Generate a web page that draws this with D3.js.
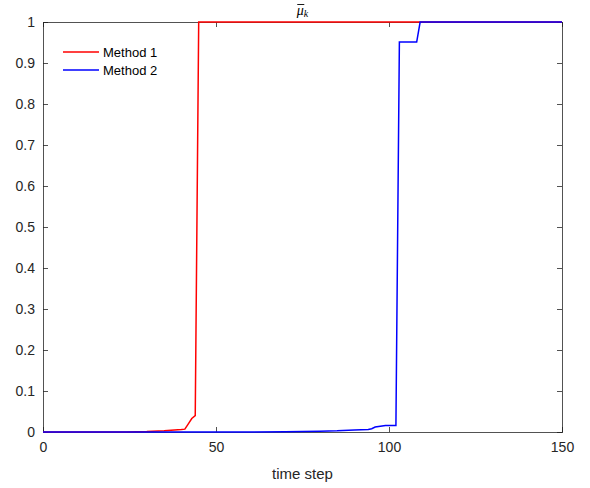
<!DOCTYPE html>
<html lang="en">
<head>
    <meta charset="UTF-8">
    <title>mu bar k</title>
    <script src="https://cdn.jsdelivr.net/npm/d3@7"></script>
    <style>
        body { margin: 0; background: #fff; font-family: "Liberation Sans", Arial, sans-serif; }
        .tick text { fill: #262626; font-size: 14px; }
    </style>
</head>
<body>
    <div id="chart"></div>
    <script>
        // time steps and values
        const method1T = [0, 20, 24, 30, 35, 38, 40, 41, 42, 43, 44, 45, 60, 80, 100, 120, 150];
        const method1V = [0, 0, 0.0003, 0.001, 0.003, 0.005, 0.006, 0.007, 0.02, 0.033, 0.04, 1, 1, 1, 1, 1, 1];
        const method2T = [0, 50, 70, 75, 80, 85, 90, 94, 95, 96, 99, 101, 102, 103, 107, 108, 109, 120, 150];
        const method2V = [0, 0, 0.0005, 0.001, 0.002, 0.003, 0.005, 0.006, 0.008, 0.012, 0.016, 0.016, 0.016, 0.951, 0.951, 0.951, 1, 1, 1];
        const xTicks = [0, 50, 100, 150];
        const yTicks = [0, 0.1, 0.2, 0.3, 0.4, 0.5, 0.6, 0.7, 0.8, 0.9, 1];
        const seriesNames = ["Method 1", "Method 2"];
        const seriesColors = ["#ff0000", "#0000ff"];

        const W = 590, H = 488;
        const margin = { top: 22, right: 28, bottom: 56, left: 43 };
        const width = W - margin.left - margin.right;
        const height = H - margin.top - margin.bottom;

        const svg = d3.select("#chart").append("svg")
            .attr("width", W).attr("height", H);
        const g = svg.append("g")
            .attr("transform", `translate(${margin.left},${margin.top})`);

        const x = d3.scaleLinear().domain([0, 150]).range([0, width]);
        const y = d3.scaleLinear().domain([0, 1]).range([height, 0]);

        const fmt = d => String(d);

        // axes, ticks pointing inward like matlab
        const axisCol = "#262626";
        const axBottom = g.append("g").attr("transform", `translate(0,${height})`)
            .call(d3.axisBottom(x).tickValues(xTicks).tickSize(-5).tickPadding(10).tickFormat(fmt));
        const axLeft = g.append("g")
            .call(d3.axisLeft(y).tickValues(yTicks).tickSize(-5).tickPadding(8).tickFormat(fmt));
        const axTop = g.append("g")
            .call(d3.axisTop(x).tickValues(xTicks).tickSize(-5).tickFormat(""));
        const axRight = g.append("g").attr("transform", `translate(${width},0)`)
            .call(d3.axisRight(y).tickValues(yTicks).tickSize(-5).tickFormat(""));
        [axBottom, axLeft, axTop, axRight].forEach(a => {
            a.select(".domain").attr("stroke", axisCol).attr("stroke-width", 0.8);
            a.selectAll(".tick line").attr("stroke", axisCol).attr("stroke-width", 0.8);
            a.selectAll(".tick text").attr("font-family", "Liberation Sans, Arial, sans-serif");
        });

        const line = d3.line().x(d => x(d[0])).y(d => y(d[1]));
        const data1 = method1T.map((t, i) => [t, method1V[i]]);
        const data2 = method2T.map((t, i) => [t, method2V[i]]);

        [data1, data2].forEach((d, i) => {
            g.append("path").datum(d)
                .attr("fill", "none")
                .attr("stroke", seriesColors[i])
                .attr("stroke-width", 1.5)
                .attr("d", line);
        });

        // legend
        const leg = g.append("g").attr("transform", "translate(20,30)");
        seriesNames.forEach((name, i) => {
            const row = leg.append("g").attr("transform", `translate(0,${i * 18})`);
            row.append("line").attr("x1", 0).attr("x2", 36)
                .attr("stroke", seriesColors[i]).attr("stroke-width", 1.5);
            row.append("text").attr("x", 40).attr("dy", "0.35em")
                .attr("font-size", 13).attr("fill", "#000").text(name);
        });

        // title: mu with a bar over it, subscript k
        const title = svg.append("text")
            .attr("x", margin.left + width / 2).attr("y", 15)
            .attr("text-anchor", "middle")
            .attr("font-family", "Liberation Serif, serif")
            .attr("font-style", "italic")
            .attr("font-size", 14)
            .attr("fill", "#000");
        const mu = title.append("tspan").text("\u03bc");
        title.append("tspan").attr("font-size", 10).attr("dy", 2).text("k");
        const mb = mu.node().getBBox();
        svg.append("line")
            .attr("x1", mb.x + 1.5).attr("x2", mb.x + mb.width + 0.5)
            .attr("y1", 4.5).attr("y2", 4.5)
            .attr("stroke", "#000").attr("stroke-width", 0.9);

        // x label
        svg.append("text")
            .attr("x", margin.left + width / 2).attr("y", 479)
            .attr("text-anchor", "middle")
            .attr("font-size", 15).attr("fill", axisCol)
            .text("time step");
    </script>
</body>
</html>
